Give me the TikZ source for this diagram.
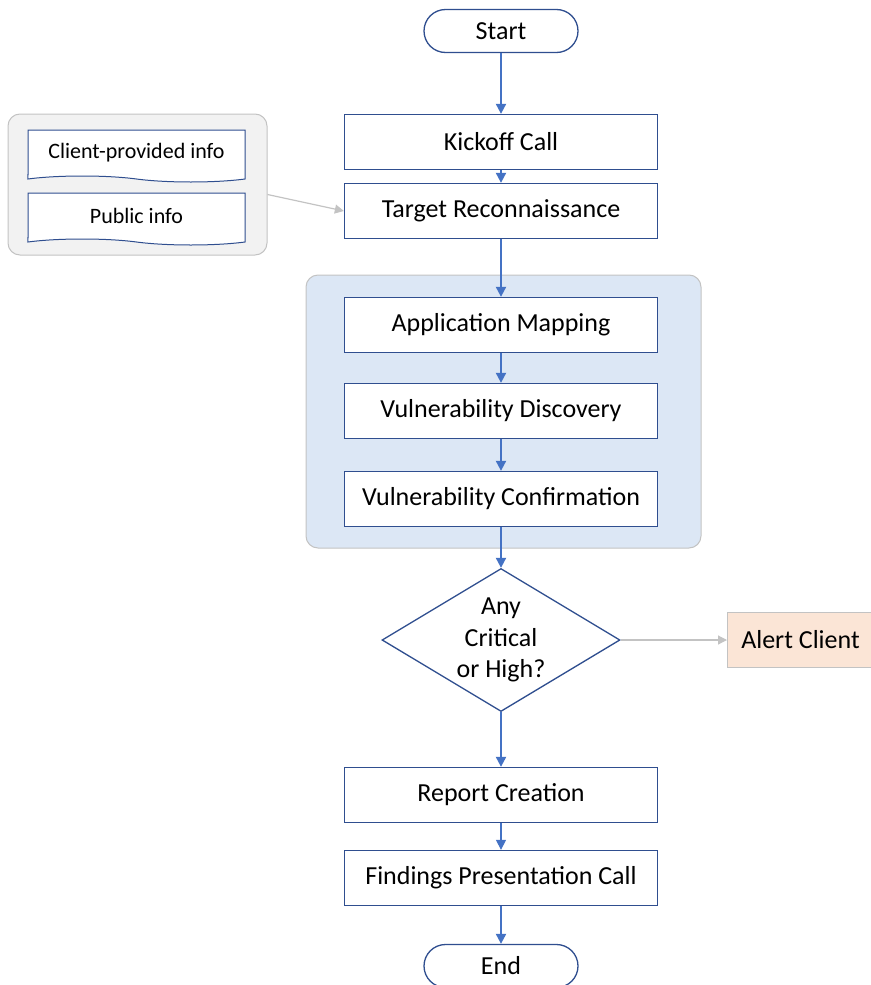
\documentclass[tikz,border=0pt]{standalone}
\usepackage{fontspec}
\setmainfont{Carlito}
\usetikzlibrary{arrows.meta,shapes.geometric,shapes.symbols}

\definecolor{boxblue}{HTML}{2F4E8F}
\definecolor{flowblue}{HTML}{4472C4}
\definecolor{groupblue}{HTML}{DCE7F5}
\definecolor{groupgray}{HTML}{F2F2F2}
\definecolor{edgegray}{HTML}{C3C3C3}
\definecolor{alertfill}{HTML}{FBE5D6}

\tikzset{
    stepbox/.style={draw=boxblue, line width=1.3pt, fill=white, minimum width=313pt, minimum height=55pt, inner sep=0pt, font=\fontsize{26}{30}\selectfont},
    terminal/.style={stepbox, minimum width=154pt, minimum height=43pt, rounded corners=21.5pt},
    docbox/.style={tape, tape bend top=none, tape bend bottom=out and in, tape bend height=6pt, draw=boxblue, line width=1pt, fill=white, minimum width=217pt, minimum height=52pt, inner sep=0pt, font=\fontsize{22}{26}\selectfont},
    groupbox/.style={draw=edgegray, line width=1pt, rounded corners=12pt},
    decision/.style={diamond, draw=boxblue, line width=1.3pt, fill=white, minimum width=238pt, minimum height=143pt, inner sep=0pt},
    decisiontext/.style={align=center, font=\fontsize{26}{31.5}\selectfont},
    alertbox/.style={draw=edgegray, line width=1pt, fill=alertfill, minimum width=150pt, minimum height=55pt, inner sep=0pt, font=\fontsize{26}{30}\selectfont},
    flow/.style={draw=flowblue, line width=2pt, -{Triangle[length=10pt,width=10pt]}},
    thinflow/.style={flow, line width=1.2pt},
    sideflow/.style={draw=edgegray, line width=1.2pt, -{Triangle[length=9pt,width=9pt]}}
}

\begin{document}
\begin{tikzpicture}[x=1pt, y=-1pt]
    \useasboundingbox (0,0) rectangle (870,985);

    % group backgrounds
    \node[groupbox, fill=groupgray, minimum width=259pt, minimum height=141pt] (infogroup) at (137.5,184.5) {};
    \node[groupbox, fill=groupblue, minimum width=395pt, minimum height=273pt] (scangroup) at (503.5,411.5) {};

    % inputs
    \node[docbox] (clientinfo) at (136.5,153) {Client-provided info};
    \node[docbox] (publicinfo) at (136.5,216) {Public info};

    % main flow
    \node[terminal] (start) at (501,31) {Start};
    \node[stepbox] (kickoff) at (501,142) {Kickoff Call};
    \node[stepbox] (recon) at (501,211) {Target Reconnaissance};
    \node[stepbox] (appmap) at (501,325) {Application Mapping};
    \node[stepbox] (vulndisc) at (501,411) {Vulnerability Discovery};
    \node[stepbox] (vulnconf) at (501,499) {Vulnerability Confirmation};
    \node[decision, label={[decisiontext]center:Any\\Critical\\or High?}] (critical) at (501,640) {};
    \node[alertbox, anchor=west] (alert) at (727,640) {\hspace*{-4pt}Alert Client};
    \node[stepbox] (report) at (501,795) {Report Creation};
    \node[stepbox] (findings) at (501,878) {Findings Presentation Call};
    \node[terminal] (end) at (501,966) {End};

    % connectors
    \draw[flow] (start) -- (kickoff);
    \draw[flow] (kickoff) -- (recon);
    \draw[sideflow] ([yshift=-10pt]infogroup.east) -- (recon.west);
    \draw[flow] (recon) -- (appmap);
    \draw[flow] (appmap) -- (vulndisc);
    \draw[flow] (vulndisc) -- (vulnconf);
    \draw[flow] (vulnconf) -- (critical);
    \draw[sideflow] (critical.east) -- (alert.west);
    \draw[flow] (critical) -- (report);
    \draw[thinflow] (report) -- (findings);
    \draw[flow] (findings) -- (end);
\end{tikzpicture}
\end{document}
